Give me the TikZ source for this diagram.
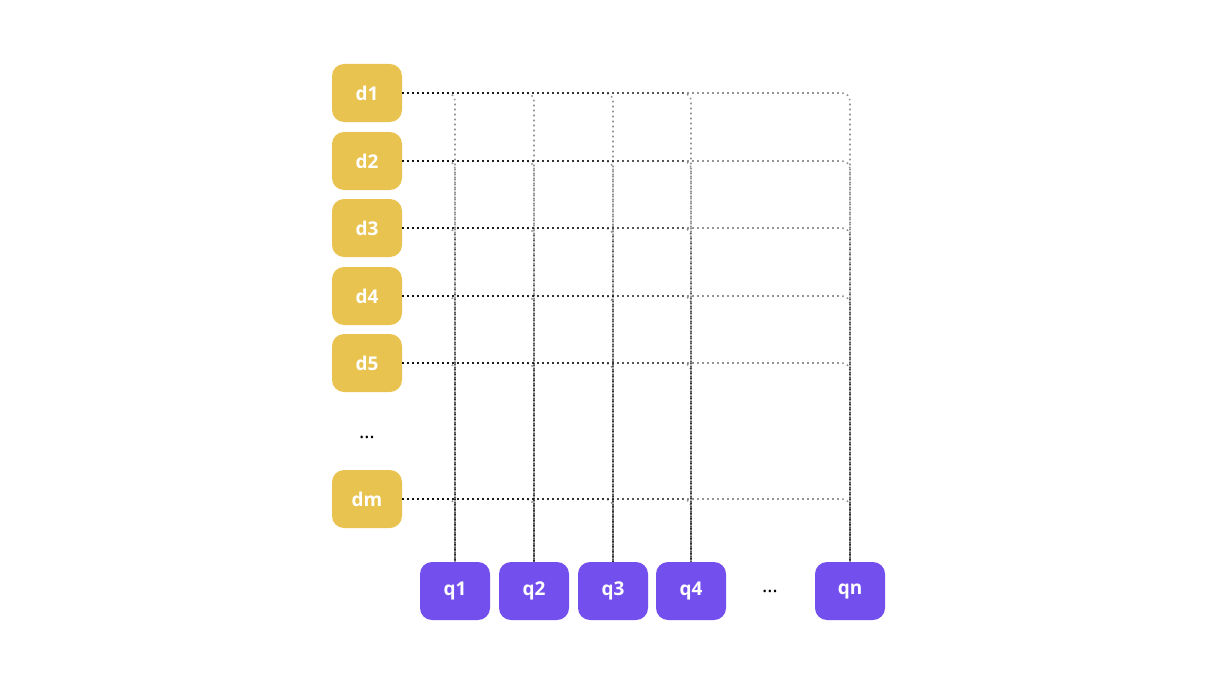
\documentclass[tikz,border=0pt]{standalone}
\usepackage{fontspec}
\setmainfont{Open Sans}
\begin{document}
\begin{tikzpicture}[x=1pt,y=-1pt,
  dbox/.style={fill=dcol,draw=none,rounded corners=12pt,minimum width=70pt,minimum height=58pt,inner sep=0pt,text=white,font=\fontsize{19}{22}\selectfont\bfseries},
  qbox/.style={fill=qcol,draw=none,rounded corners=12pt,minimum width=70pt,minimum height=58pt,inner sep=0pt,text=white,font=\fontsize{19}{22}\selectfont\bfseries},
  conn/.style={draw=black,draw opacity=0.42,line width=1.6pt,dash pattern=on 1.6pt off 3.4pt,rounded corners=8pt},
  dots/.style={font=\fontsize{20}{24}\selectfont,text=black}]
\definecolor{dcol}{HTML}{E8C350}
\definecolor{qcol}{HTML}{734FED}
\useasboundingbox (0,0) rectangle (1213,677);
\node[dbox] (d1) at (367,93) {d1};
\node[dbox] (d2) at (367,161) {d2};
\node[dbox] (d3) at (367,228) {d3};
\node[dbox] (d4) at (367,296) {d4};
\node[dbox] (d5) at (367,363) {d5};
\node[dots] (dd) at (367,437) {\ldots};
\node[dbox] (dm) at (367,499) {dm};
\node[qbox] (q1) at (455,591) {q1};
\node[qbox] (q2) at (534,591) {q2};
\node[qbox] (q3) at (613,591) {q3};
\node[qbox] (q4) at (691,591) {q4};
\node[dots] (qd) at (770,591) {\ldots};
\node[qbox] (qn) at (850,591) {qn};
\foreach \d in {d1,d2,d3,d4,d5,dm}{
  \foreach \q in {q1,q2,q3,q4,qn}{
    \draw[conn] (\d.east) -| (\q.north);
  }
}
\end{tikzpicture}
\end{document}
